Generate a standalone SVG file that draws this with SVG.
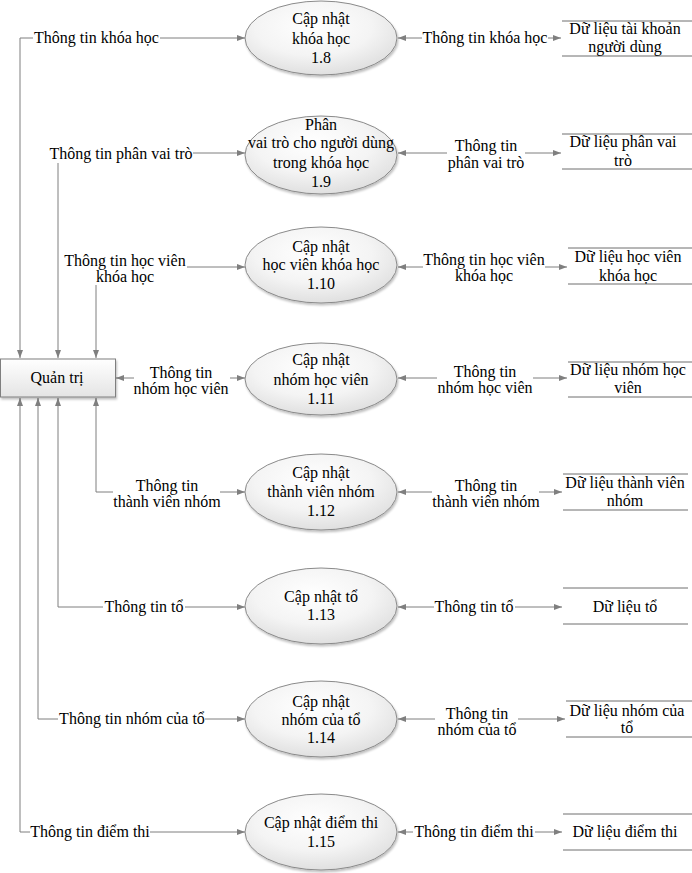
<svg xmlns="http://www.w3.org/2000/svg" width="692" height="873" viewBox="0 0 692 873">
<style>
text{font-family:"Liberation Serif","Times New Roman",serif;font-size:16px;fill:#000}
.m{text-anchor:middle}
.ln{fill:none;stroke:#7f7f7f;stroke-width:1}
.ds{stroke:#6f6f6f;stroke-width:1}
.el{fill:url(#g);stroke:#8a8a8a;stroke-width:1;filter:url(#sh)}
.bx{fill:url(#g2);stroke:#7f7f7f;stroke-width:1;filter:url(#sh)}
</style>
<defs>
<radialGradient id="g" cx="0.45" cy="0.35" r="0.7">
<stop offset="0" stop-color="#ffffff"/>
<stop offset="0.55" stop-color="#f4f4f4"/>
<stop offset="1" stop-color="#dcdcdc"/>
</radialGradient>
<linearGradient id="g2" x1="0" y1="0" x2="0" y2="1">
<stop offset="0" stop-color="#ffffff"/>
<stop offset="1" stop-color="#e4e4e4"/>
</linearGradient>
<filter id="sh" x="-10%" y="-10%" width="125%" height="130%">
<feDropShadow dx="1" dy="2" stdDeviation="1" flood-color="#000" flood-opacity="0.25"/>
</filter>
<marker id="a" viewBox="0 0 8 6" markerWidth="8" markerHeight="6" refX="8" refY="3" orient="auto-start-reverse" markerUnits="userSpaceOnUse">
<path d="M0,0 L8,3 L0,6 z" fill="#7f7f7f"/>
</marker>
</defs>

<g id="connectors">
<!-- left side -->
<path class="ln" d="M33,38 H20 V358" marker-end="url(#a)"/>
<path class="ln" d="M160,38 H245" marker-end="url(#a)"/>
<path class="ln" d="M58,163 V358" marker-end="url(#a)"/>
<path class="ln" d="M193,153 H245" marker-end="url(#a)"/>
<path class="ln" d="M96,285 V358" marker-end="url(#a)"/>
<path class="ln" d="M187,267 H245" marker-end="url(#a)"/>
<path class="ln" d="M134,378 H116" marker-end="url(#a)"/>
<path class="ln" d="M230,378 H245" marker-end="url(#a)"/>
<path class="ln" d="M113,492 H96 V398" marker-end="url(#a)"/>
<path class="ln" d="M220,492 H245" marker-end="url(#a)"/>
<path class="ln" d="M103,607 H58 V398" marker-end="url(#a)"/>
<path class="ln" d="M185,607 H245" marker-end="url(#a)"/>
<path class="ln" d="M58,719 H38 V398" marker-end="url(#a)"/>
<path class="ln" d="M205,719 H245" marker-end="url(#a)"/>
<path class="ln" d="M30,832 H20 V398" marker-end="url(#a)"/>
<path class="ln" d="M150,832 H245" marker-end="url(#a)"/>
<!-- right side -->
<path class="ln" d="M422,38 H398" marker-end="url(#a)"/>
<path class="ln" d="M548,38 H561" marker-end="url(#a)"/>
<path class="ln" d="M447,153 H398" marker-end="url(#a)"/>
<path class="ln" d="M525,153 H561" marker-end="url(#a)"/>
<path class="ln" d="M423,267 H398" marker-end="url(#a)"/>
<path class="ln" d="M545,267 H567" marker-end="url(#a)"/>
<path class="ln" d="M437,378 H398" marker-end="url(#a)"/>
<path class="ln" d="M533,378 H567" marker-end="url(#a)"/>
<path class="ln" d="M432,492 H398" marker-end="url(#a)"/>
<path class="ln" d="M539,492 H562" marker-end="url(#a)"/>
<path class="ln" d="M434,607 H398" marker-end="url(#a)"/>
<path class="ln" d="M515,607 H562" marker-end="url(#a)"/>
<path class="ln" d="M435,719 H398" marker-end="url(#a)"/>
<path class="ln" d="M518,719 H565" marker-end="url(#a)"/>
<path class="ln" d="M413,832 H398" marker-end="url(#a)"/>
<path class="ln" d="M535,832 H562" marker-end="url(#a)"/>

<!-- labels -->
<text class="m" x="96.5" y="43">Thông tin khóa học</text>
<text class="m" x="121" y="159">Thông tin phân vai trò</text>
<text class="m" x="125" y="266">Thông tin học viên</text>
<text class="m" x="125" y="282">khóa học</text>
<text class="m" x="181" y="378">Thông tin</text>
<text class="m" x="181" y="394">nhóm học viên</text>
<text class="m" x="167" y="491">Thông tin</text>
<text class="m" x="167" y="507">thành viên nhóm</text>
<text class="m" x="144" y="612">Thông tin tổ</text>
<text class="m" x="132" y="724">Thông tin nhóm của tổ</text>
<text class="m" x="90" y="837">Thông tin điểm thi</text>

<text class="m" x="485" y="43">Thông tin khóa học</text>
<text class="m" x="486" y="151">Thông tin</text>
<text class="m" x="486" y="168">phân vai trò</text>
<text class="m" x="484" y="265">Thông tin học viên</text>
<text class="m" x="484" y="281">khóa học</text>
<text class="m" x="485" y="377">Thông tin</text>
<text class="m" x="485" y="393">nhóm học viên</text>
<text class="m" x="486" y="491">Thông tin</text>
<text class="m" x="486" y="507">thành viên nhóm</text>
<text class="m" x="474" y="612">Thông tin tổ</text>
<text class="m" x="477" y="719">Thông tin</text>
<text class="m" x="477" y="735">nhóm của tổ</text>
<text class="m" x="474" y="837">Thông tin điểm thi</text>
</g>

<g id="admin">
<rect class="bx" x="0.5" y="359" width="115" height="38"/>
<text class="m" x="57" y="383">Quản trị</text>
</g>

<g id="p1_8">
<ellipse class="el" cx="321" cy="38" rx="76" ry="37"/>
<text class="m" x="321" y="24">Cập nhật</text>
<text class="m" x="321" y="44">khóa học</text>
<text class="m" x="321" y="63">1.8</text>
</g>
<g id="p1_9">
<ellipse class="el" cx="321" cy="155" rx="76" ry="39"/>
<text class="m" x="321" y="130">Phân</text>
<text class="m" x="321" y="148">vai trò cho người dùng</text>
<text class="m" x="321" y="168">trong khóa học</text>
<text class="m" x="321" y="187">1.9</text>
</g>
<g id="p1_10">
<ellipse class="el" cx="321" cy="265" rx="76" ry="38"/>
<text class="m" x="321" y="252">Cập nhật</text>
<text class="m" x="321" y="270">học viên khóa học</text>
<text class="m" x="321" y="289">1.10</text>
</g>
<g id="p1_11">
<ellipse class="el" cx="321" cy="379" rx="76" ry="36"/>
<text class="m" x="321" y="365">Cập nhật</text>
<text class="m" x="321" y="385">nhóm học viên</text>
<text class="m" x="321" y="404">1.11</text>
</g>
<g id="p1_12">
<ellipse class="el" cx="321" cy="492" rx="76" ry="38"/>
<text class="m" x="321" y="478">Cập nhật</text>
<text class="m" x="321" y="497">thành viên nhóm</text>
<text class="m" x="321" y="516">1.12</text>
</g>
<g id="p1_13">
<ellipse class="el" cx="321" cy="606" rx="76" ry="38"/>
<text class="m" x="321" y="602">Cập nhật tổ</text>
<text class="m" x="321" y="620">1.13</text>
</g>
<g id="p1_14">
<ellipse class="el" cx="321" cy="719" rx="76" ry="38"/>
<text class="m" x="321" y="707">Cập nhật</text>
<text class="m" x="321" y="725">nhóm của tổ</text>
<text class="m" x="321" y="743">1.14</text>
</g>
<g id="p1_15">
<ellipse class="el" cx="321" cy="832" rx="76" ry="38"/>
<text class="m" x="321" y="828">Cập nhật điểm thi</text>
<text class="m" x="321" y="847">1.15</text>
</g>

<g id="ds_taikhoan">
<line class="ds" x1="562" y1="21" x2="692" y2="21"/>
<line class="ds" x1="562" y1="56" x2="692" y2="56"/>
<text class="m" x="625" y="34">Dữ liệu tài khoản</text>
<text class="m" x="625" y="52">người dùng</text>
</g>
<g id="ds_phanvaitro">
<line class="ds" x1="562" y1="134" x2="692" y2="134"/>
<line class="ds" x1="562" y1="169" x2="692" y2="169"/>
<text class="m" x="623" y="147">Dữ liệu phân vai</text>
<text class="m" x="623" y="166">trò</text>
</g>
<g id="ds_hocvien">
<line class="ds" x1="568" y1="248" x2="692" y2="248"/>
<line class="ds" x1="568" y1="284" x2="692" y2="284"/>
<text class="m" x="628" y="262">Dữ liệu học viên</text>
<text class="m" x="628" y="281">khóa học</text>
</g>
<g id="ds_nhomhocvien">
<line class="ds" x1="568" y1="362" x2="692" y2="362"/>
<line class="ds" x1="568" y1="397" x2="692" y2="397"/>
<text class="m" x="628" y="375">Dữ liệu nhóm học</text>
<text class="m" x="628" y="393">viên</text>
</g>
<g id="ds_thanhvien">
<line class="ds" x1="563" y1="474" x2="688" y2="474"/>
<line class="ds" x1="563" y1="510" x2="688" y2="510"/>
<text class="m" x="625" y="488">Dữ liệu thành viên</text>
<text class="m" x="625" y="506">nhóm</text>
</g>
<g id="ds_to">
<line class="ds" x1="563" y1="588" x2="688" y2="588"/>
<line class="ds" x1="563" y1="624" x2="688" y2="624"/>
<text class="m" x="625" y="612">Dữ liệu tổ</text>
</g>
<g id="ds_nhomcuato">
<line class="ds" x1="566" y1="701" x2="692" y2="701"/>
<line class="ds" x1="566" y1="737" x2="692" y2="737"/>
<text class="m" x="627" y="716">Dữ liệu nhóm của</text>
<text class="m" x="627" y="733">tổ</text>
</g>
<g id="ds_diemthi">
<line class="ds" x1="563" y1="814" x2="692" y2="814"/>
<line class="ds" x1="563" y1="850" x2="692" y2="850"/>
<text class="m" x="625" y="837">Dữ liệu điểm thi</text>
</g>
</svg>
